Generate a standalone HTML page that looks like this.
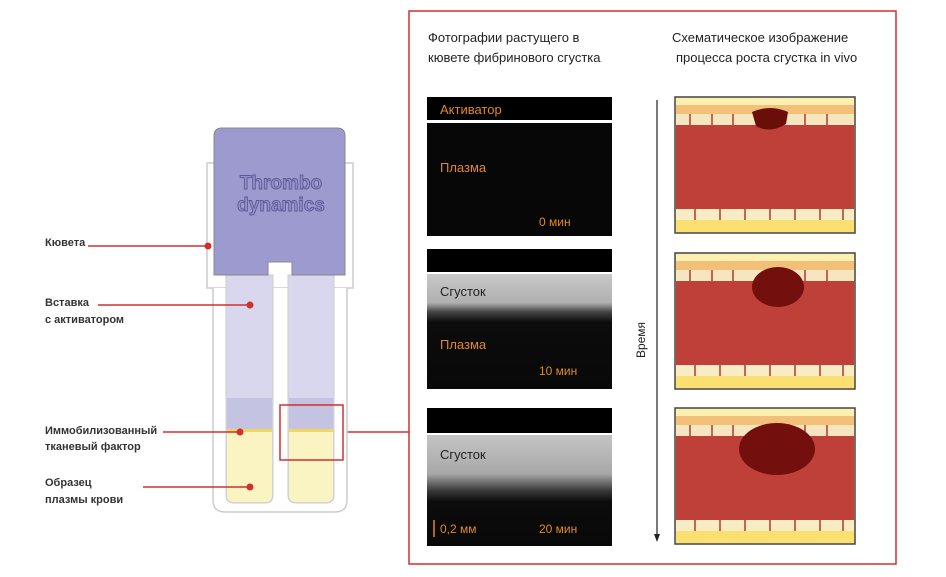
<!DOCTYPE html>
<html><head><meta charset="utf-8"><style>
html,body{margin:0;padding:0;background:#fff}
svg{display:block}
text{font-family:"Liberation Sans","DejaVu Sans",sans-serif}
</style></head><body>
<svg width="946" height="577" viewBox="0 0 946 577" xmlns="http://www.w3.org/2000/svg">
<defs>
<linearGradient id="clot2" x1="0" y1="0" x2="0" y2="1">
<stop offset="0" stop-color="#c8c8c8"/><stop offset="0.25" stop-color="#b0b0b0"/><stop offset="0.33" stop-color="#444"/><stop offset="0.42" stop-color="#0c0c0c"/><stop offset="1" stop-color="#080808"/></linearGradient>
<linearGradient id="clot3" x1="0" y1="0" x2="0" y2="1">
<stop offset="0" stop-color="#c4c4c4"/><stop offset="0.35" stop-color="#a8a8a8"/><stop offset="0.5" stop-color="#3a3a3a"/><stop offset="0.6" stop-color="#0c0c0c"/><stop offset="1" stop-color="#080808"/></linearGradient>
<g id="vessel">
<rect x="0" y="0" width="180" height="136" fill="#fbf0b0" stroke="#444" stroke-width="1.5"/>
<rect x="1" y="8" width="178" height="10" fill="#f3c07a"/>
<rect x="1" y="17" width="178" height="12" fill="#f6e6c0"/>
<g stroke="#b03a2a" stroke-width="1.5">
<line x1="15" y1="17" x2="15" y2="29"/><line x1="37" y1="17" x2="37" y2="29"/><line x1="58" y1="17" x2="58" y2="29"/><line x1="130" y1="17" x2="130" y2="29"/><line x1="152" y1="17" x2="152" y2="29"/>
</g>
<rect x="1" y="28" width="178" height="85" fill="#bf4039"/>
<rect x="1" y="112" width="178" height="11" fill="#f8ecc4"/>
<g stroke="#b03a2a" stroke-width="1.5">
<line x1="20" y1="112" x2="20" y2="123"/><line x1="45" y1="112" x2="45" y2="123"/><line x1="70" y1="112" x2="70" y2="123"/><line x1="95" y1="112" x2="95" y2="123"/><line x1="120" y1="112" x2="120" y2="123"/><line x1="145" y1="112" x2="145" y2="123"/><line x1="168" y1="112" x2="168" y2="123"/>
</g>
<rect x="1" y="123" width="178" height="12" fill="#fae070"/>
</g>
</defs>

<rect x="409" y="11" width="487" height="553" fill="none" stroke="#d03030" stroke-width="1.5"/>
<line x1="343" y1="432" x2="409" y2="432" stroke="#d03030" stroke-width="1.5"/>

<rect x="207" y="163" width="146" height="125" fill="#fff" stroke="#ccc" stroke-width="1.5"/>
<path d="M213 288 V500 Q213 512 225 512 H335 Q347 512 347 500 V288" fill="#fff" stroke="#ccc" stroke-width="1.5"/>
<path d="M226 275 V495 Q226 503 234 503 H265 Q273 503 273 495 V275 Z" fill="#d8d7ee" stroke="#ccc"/>
<path d="M288 275 V495 Q288 503 296 503 H326 Q334 503 334 495 V275 Z" fill="#d8d7ee" stroke="#ccc"/>
<rect x="227" y="398" width="45" height="32" fill="#c4c3e2"/>
<rect x="289" y="398" width="44" height="32" fill="#c4c3e2"/>
<path d="M227 430 H272 V495 Q272 502 265 502 H234 Q227 502 227 495 Z" fill="#faf3c2"/>
<path d="M289 430 H333 V495 Q333 502 326 502 H296 Q289 502 289 495 Z" fill="#faf3c2"/>
<rect x="227" y="429" width="45" height="3" fill="#f0d860"/>
<rect x="289" y="429" width="44" height="3" fill="#f0d860"/>
<path d="M214 136 Q214 128 222 128 H337 Q345 128 345 136 V275 H292 V262 H268 V275 H214 Z" fill="#9c9acf" stroke="#888" stroke-width="1"/>
<text x="281" y="189" font-size="19" font-weight="bold" fill="#9290c8" stroke="#5d5a98" stroke-width="0.9" text-anchor="middle">Thrombo</text>
<text x="281" y="211" font-size="19" font-weight="bold" fill="#9290c8" stroke="#5d5a98" stroke-width="0.9" text-anchor="middle">dynamics</text>
<rect x="280" y="405" width="63" height="55" fill="none" stroke="#d03030" stroke-width="1.5"/>

<g font-size="11" fill="#333" font-weight="bold">
<text x="45" y="246">Кювета</text>
<text x="45" y="306">Вставка</text><text x="45" y="323">с активатором</text>
<text x="45" y="434">Иммобилизованный</text><text x="45" y="450">тканевый фактор</text>
<text x="45" y="486">Образец</text><text x="45" y="503">плазмы крови</text>
</g>
<g stroke="#d03030" stroke-width="1.5">
<line x1="88" y1="246" x2="208" y2="246"/><line x1="98" y1="305" x2="250" y2="305"/>
<line x1="163" y1="432" x2="240" y2="432"/><line x1="143" y1="487" x2="250" y2="487"/>
</g>
<g fill="#d03030"><circle cx="208" cy="246" r="3.5"/><circle cx="250" cy="305" r="3.5"/><circle cx="240" cy="432" r="3.5"/><circle cx="250" cy="487" r="3.5"/></g>

<g font-size="13" fill="#222">
<text x="428" y="42">Фотографии растущего в</text>
<text x="428" y="62">кювете фибринового сгустка</text>
<text x="672" y="42">Схематическое изображение</text>
<text x="676" y="62">процесса роста сгустка in vivo</text>
</g>

<rect x="427" y="97" width="185" height="23" fill="#000"/>
<rect x="427" y="123" width="185" height="113" fill="#070707"/>
<text x="440" y="114" font-size="13" fill="#e08a20">Активатор</text>
<text x="440" y="172" font-size="13" fill="#e08a20">Плазма</text>
<text x="539" y="226" font-size="12" fill="#e08a20">0 мин</text>

<rect x="427" y="249" width="185" height="23" fill="#000"/>
<rect x="427" y="274" width="185" height="115" fill="url(#clot2)"/>
<text x="440" y="296" font-size="13" fill="#222">Сгусток</text>
<text x="440" y="349" font-size="13" fill="#e08a20">Плазма</text>
<text x="539" y="375" font-size="12" fill="#e08a20">10 мин</text>

<rect x="427" y="408" width="185" height="25" fill="#000"/>
<rect x="427" y="435" width="185" height="111" fill="url(#clot3)"/>
<text x="440" y="459" font-size="13" fill="#222">Сгусток</text>
<line x1="434" y1="520" x2="434" y2="537" stroke="#e08a20" stroke-width="1.5"/>
<text x="440" y="533" font-size="12" fill="#e08a20">0,2 мм</text>
<text x="539" y="533" font-size="12" fill="#e08a20">20 мин</text>

<line x1="657" y1="100" x2="657" y2="536" stroke="#222" stroke-width="1.2"/>
<path d="M654 534 L657 542 L660 534 Z" fill="#222"/>
<text transform="translate(645,340) rotate(-90)" font-size="12" fill="#222" text-anchor="middle">Время</text>

<use href="#vessel" x="675" y="97"/>
<path d="M752 112 Q770 104 788 112 L786 124 Q770 134 756 126 Z" fill="#6a0e0a"/>
<use href="#vessel" x="675" y="253"/>
<ellipse cx="778" cy="287" rx="26" ry="20" fill="#730f0c"/>
<use href="#vessel" x="675" y="408"/>
<ellipse cx="777" cy="449" rx="38" ry="26" fill="#730f0c"/>
</svg>
</body></html>
